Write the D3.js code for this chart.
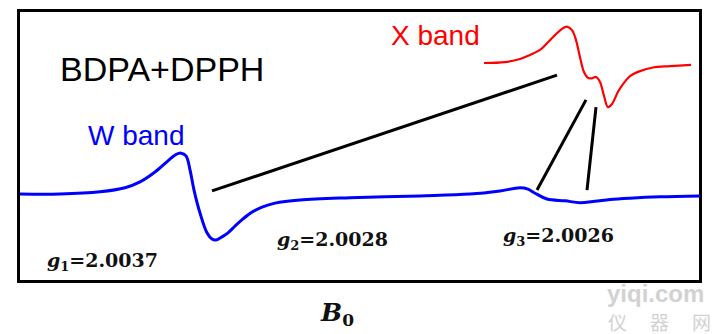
<!DOCTYPE html>
<html>
<head>
<meta charset="utf-8">
<script src="https://cdn.jsdelivr.net/npm/d3@7/dist/d3.min.js"></script>
<style>
  html, body { margin: 0; padding: 0; background: #fff; }
  svg { display: block; }
</style>
</head>
<body>
<svg id="chart" width="722" height="334"></svg>
<script>
// W band derivative spectrum (field offset, a.u.; signal, normalised)
const wField  = [0, 40, 80, 105, 120, 135, 148, 156, 161, 166, 170, 174, 180, 187, 192, 196, 202, 208, 215, 223, 232, 242, 255, 280, 330, 400, 450, 480, 500, 508, 515, 527, 545, 560, 575, 590, 610, 640, 680];
const wSignal = [0.02, 0.02, 0.07, 0.16, 0.29, 0.51, 0.76, 0.90, 0.93, 0.87, 0.56, 0.11, -0.40, -0.84, -0.98, -1.0, -0.93, -0.84, -0.69, -0.53, -0.38, -0.27, -0.18, -0.11, -0.06, -0.02, 0.02, 0.09, 0.16, 0.13, 0.04, -0.09, -0.13, -0.17, -0.14, -0.10, -0.07, -0.04, -0.02];

// X band derivative spectrum (field offset, a.u.; signal, normalised)
const xField  = [0, 21, 36, 46, 56, 63, 71, 78, 83, 88, 92, 96, 100, 104, 108, 112, 116, 120, 124, 128, 134, 139, 146, 156, 169, 186, 207];
const xSignal = [0, 0.02, 0.09, 0.18, 0.29, 0.44, 0.62, 0.76, 0.81, 0.73, 0.51, 0.13, -0.20, -0.33, -0.34, -0.31, -0.42, -0.73, -0.98, -0.91, -0.64, -0.47, -0.29, -0.18, -0.10, -0.07, -0.04];

// Connectors: a W band feature to the matching X band feature
const linkWField  = [192, 517, 567];
const linkWSignal = [0.09, 0.11, 0.11];
const linkXField  = [73, 102, 112];
const linkXSignal = [-0.27, -0.82, -0.98];

// g-factor labels
const gSub    = ["1", "2", "3"];
const gValues = ["2.0037", "2.0028", "2.0026"];

const svg = d3.select("#chart");

// Scales for the main (W band) trace and the inset (X band) trace
const xW = d3.scaleLinear().domain([0, 680]).range([20, 700]);
const yW = d3.scaleLinear().domain([-1, 1]).range([240, 150]);
const xX = d3.scaleLinear().domain([0, 207]).range([484, 691]);
const yX = d3.scaleLinear().domain([-1, 1]).range([108, 18]);

// Frame
svg.append("rect")
  .attr("x", 18.5).attr("y", 10.5)
  .attr("width", 682).attr("height", 271)
  .attr("fill", "none")
  .attr("stroke", "#000")
  .attr("stroke-width", 3);

const lineW = d3.line()
  .x((d, i) => xW(wField[i]))
  .y((d, i) => yW(wSignal[i]))
  .curve(d3.curveCatmullRom.alpha(0.5));

const lineX = d3.line()
  .x((d, i) => xX(xField[i]))
  .y((d, i) => yX(xSignal[i]))
  .curve(d3.curveCatmullRom.alpha(0.5));

// Connector lines
svg.append("g").selectAll("line")
  .data(linkWField)
  .join("line")
  .attr("x1", (d, i) => xW(linkWField[i]))
  .attr("y1", (d, i) => yW(linkWSignal[i]))
  .attr("x2", (d, i) => xX(linkXField[i]))
  .attr("y2", (d, i) => yX(linkXSignal[i]))
  .attr("stroke", "#000")
  .attr("stroke-width", 3);

// Spectra
svg.append("path")
  .attr("d", lineW(wField))
  .attr("fill", "none")
  .attr("stroke", "#0000ff")
  .attr("stroke-width", 3)
  .attr("stroke-linejoin", "round");

svg.append("path")
  .attr("d", lineX(xField))
  .attr("fill", "none")
  .attr("stroke", "#ff0000")
  .attr("stroke-width", 2.2)
  .attr("stroke-linejoin", "round");

// Titles
svg.append("text")
  .attr("x", 60).attr("y", 81)
  .attr("font-family", "Liberation Sans, Arial, sans-serif")
  .attr("font-size", 34)
  .attr("fill", "#000")
  .text("BDPA+DPPH");

svg.append("text")
  .attr("x", 88).attr("y", 145)
  .attr("font-family", "Liberation Sans, Arial, sans-serif")
  .attr("font-size", 28)
  .attr("fill", "#0000ff")
  .text("W band");

svg.append("text")
  .attr("x", 391).attr("y", 45)
  .attr("font-family", "Liberation Sans, Arial, sans-serif")
  .attr("font-size", 28)
  .attr("fill", "#ff0000")
  .text("X band");

// g-factor labels
const gPos = [[47, 267], [277, 246], [503, 242]];
gValues.forEach((v, i) => {
  const t = svg.append("text")
    .attr("x", gPos[i][0]).attr("y", gPos[i][1])
    .attr("font-family", "DejaVu Serif, serif")
    .attr("font-weight", "bold")
    .attr("font-size", 19)
    .attr("fill", "#111");
  t.append("tspan").attr("font-style", "italic").text("g");
  t.append("tspan").attr("font-size", 13).attr("dy", 4).text(gSub[i]);
  t.append("tspan").attr("dy", -4).text("=" + v);
});

// Field axis label
const b = svg.append("text")
  .attr("x", 321).attr("y", 321)
  .attr("font-family", "DejaVu Serif, serif")
  .attr("font-weight", "bold")
  .attr("font-size", 25)
  .attr("fill", "#111");
b.append("tspan").attr("font-style", "italic").text("B");
b.append("tspan").attr("font-size", 17).attr("dy", 5).text("0");

// Site mark
svg.append("text")
  .attr("x", 607).attr("y", 302)
  .attr("font-family", "Liberation Sans, Arial, sans-serif")
  .attr("font-weight", "bold")
  .attr("font-size", 24)
  .attr("fill", "#d2d2d2")
  .text("yiqi.com");
const cjk = ["仪", "器", "网"];
const cjkX = [608, 650, 692];
cjk.forEach((c, i) => {
  svg.append("text")
    .attr("x", cjkX[i]).attr("y", 330)
    .attr("font-family", "Noto Sans CJK SC, sans-serif")
    .attr("font-size", 19)
    .attr("fill", "#d2d2d2")
    .text(c);
});
</script>
</body>
</html>
